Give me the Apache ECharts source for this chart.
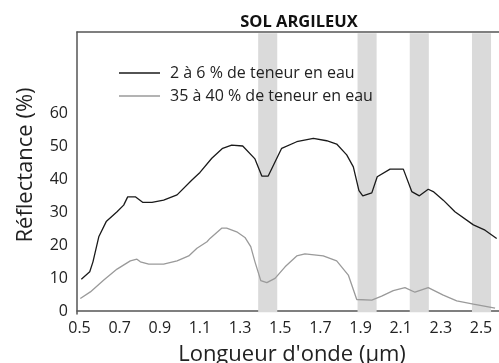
<!DOCTYPE html>
<html>
<head>
<meta charset="utf-8">
<script src="https://cdn.jsdelivr.net/npm/echarts@6/dist/echarts.min.js"></script>
<style>
  html, body { margin: 0; padding: 0; background: #fff; overflow: hidden; }
  #chart { width: 499px; height: 363px; }
</style>
</head>
<body>
<div id="chart"></div>
<script>
// Spectral reflectance of a clay soil at two moisture levels
const chartTitle = 'SOL ARGILEUX';
const seriesNames = ['2 à 6 % de teneur en eau', '35 à 40 % de teneur en eau'];

// [wavelength (µm), reflectance (%)]
const drySoil = [
  [0.509, 9.6], [0.551, 11.9], [0.567, 14.9], [0.596, 22.5], [0.633, 27.1],
  [0.687, 30.1], [0.720, 32.1], [0.740, 34.6], [0.778, 34.6], [0.816, 32.9],
  [0.861, 32.9], [0.919, 33.6], [0.986, 35.2], [1.060, 39.7], [1.100, 42.0],
  [1.159, 46.3], [1.213, 49.3], [1.258, 50.3], [1.313, 50.0], [1.374, 46.1],
  [1.408, 40.9], [1.440, 40.9], [1.507, 49.3], [1.582, 51.3], [1.665, 52.3],
  [1.731, 51.6], [1.781, 50.6], [1.831, 47.3], [1.864, 43.7], [1.892, 36.5],
  [1.911, 34.9], [1.956, 35.8], [1.983, 40.7], [2.047, 43.0], [2.113, 43.0],
  [2.155, 36.2], [2.193, 34.9], [2.237, 36.9], [2.262, 36.2], [2.312, 33.6],
  [2.370, 30.1], [2.462, 26.1], [2.520, 24.5], [2.578, 22.0]
];
const wetSoil = [
  [0.504, 3.8], [0.554, 5.8], [0.621, 9.4], [0.687, 12.7], [0.753, 15.2],
  [0.786, 15.7], [0.803, 14.9], [0.845, 14.2], [0.919, 14.2], [0.986, 15.2],
  [1.044, 16.7], [1.085, 19.0], [1.135, 21.0], [1.150, 22.0], [1.208, 25.1],
  [1.233, 25.1], [1.283, 24.0], [1.324, 22.3], [1.353, 19.5], [1.374, 14.9],
  [1.403, 9.2], [1.433, 8.6], [1.474, 9.9], [1.524, 13.4], [1.582, 16.7],
  [1.623, 17.3], [1.714, 16.7], [1.781, 15.2], [1.839, 10.9], [1.881, 3.5],
  [1.956, 3.3], [2.005, 4.5], [2.063, 6.2], [2.121, 7.1], [2.171, 5.7],
  [2.237, 7.1], [2.312, 4.8], [2.379, 3.1], [2.462, 2.1], [2.570, 0.9]
];

// Water absorption bands (µm)
const absorptionBands = [[1.39, 1.485], [1.885, 1.98], [2.145, 2.24], [2.455, 2.55]];

const xTicks = [0.5, 0.7, 0.9, 1.1, 1.3, 1.5, 1.7, 1.9, 2.1, 2.3, 2.5];
const yTicks = [0, 10, 20, 30, 40, 50, 60];

const FONT = 'Open Sans';
const X_MIN = 0.4875, X_MAX = 2.5896;
const Y_MIN = -0.9, Y_MAX = 84.55;

const chart = echarts.init(document.getElementById('chart'), null, { renderer: 'canvas' });

chart.setOption({
  animation: false,
  title: {
    text: chartTitle,
    left: 294,
    top: 9,
    textAlign: 'center',
    textStyle: { fontFamily: FONT, fontSize: 16.5, fontWeight: 'bold', color: '#111' }
  },
  legend: {
    orient: 'vertical',
    left: 114,
    top: 60,
    icon: 'rect',
    itemWidth: 41,
    itemHeight: 1.4,
    itemGap: 7,
    textStyle: { fontFamily: FONT, fontSize: 16, color: '#222', padding: [0, 0, 0, 5] },
    data: seriesNames
  },
  grid: {
    left: 77, top: 32, width: 422, height: 282,
    containLabel: false,
    outerBoundsMode: 'none'
  },
  xAxis: [{
    type: 'value',
    min: X_MIN,
    max: X_MAX,
    name: 'Longueur d\'onde (µm)',
    nameLocation: 'middle',
    nameGap: 30,
    nameTextStyle: { fontFamily: FONT, fontSize: 22, color: '#222', padding: [0, 0, 0, 8] },
    axisLine: { show: true, lineStyle: { color: '#555', width: 1.5 } },
    axisTick: { show: false },
    splitLine: { show: false },
    axisLabel: {
      customValues: xTicks,
      formatter: v => v.toFixed(1),
      fontFamily: FONT, fontSize: 16, color: '#222', margin: 6
    }
  }, {
    type: 'value',
    position: 'top',
    min: X_MIN,
    max: X_MAX,
    axisLine: { show: true, lineStyle: { color: '#555', width: 1.5 } },
    axisTick: { show: false },
    axisLabel: { show: false },
    splitLine: { show: false }
  }],
  yAxis: {
    type: 'value',
    min: Y_MIN,
    max: Y_MAX,
    name: 'Réflectance (%)',
    nameLocation: 'middle',
    nameGap: 40,
    nameTextStyle: { fontFamily: FONT, fontSize: 22, color: '#222', padding: [0, 0, 0, 16] },
    axisLine: { show: true, lineStyle: { color: '#555', width: 1.5 } },
    axisTick: { show: false },
    splitLine: { show: false },
    axisLabel: {
      customValues: yTicks,
      fontFamily: FONT, fontSize: 16, color: '#222', margin: 9
    }
  },
  color: ['#1a1a1a', '#9a9a9a'],
  series: [{
    name: seriesNames[0],
    type: 'line',
    data: drySoil,
    symbol: 'none',
    lineStyle: { color: '#1a1a1a', width: 1.3 },
    markArea: {
      silent: true,
      itemStyle: { color: '#dadada' },
      data: absorptionBands.map(b => [{ xAxis: b[0], yAxis: -0.4 }, { xAxis: b[1], yAxis: 84.2 }])
    }
  }, {
    name: seriesNames[1],
    type: 'line',
    data: wetSoil,
    symbol: 'none',
    lineStyle: { color: '#9a9a9a', width: 1.3 }
  }]
});
</script>
</body>
</html>
